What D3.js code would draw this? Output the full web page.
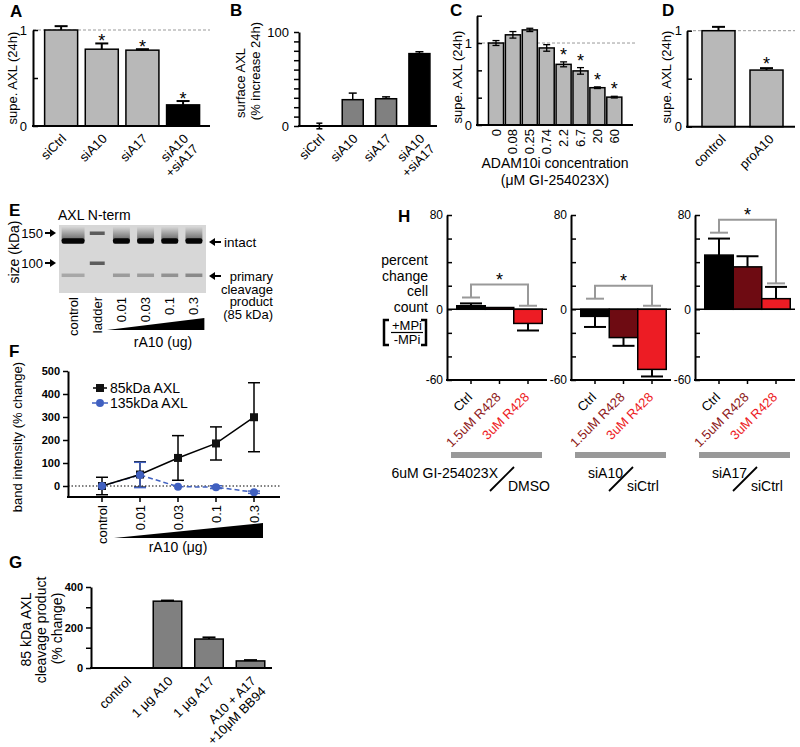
<!DOCTYPE html>
<html><head><meta charset="utf-8">
<script src="https://cdn.jsdelivr.net/npm/d3@7/dist/d3.min.js"></script>
<style>
html,body{margin:0;padding:0;background:#fff;}
svg{display:block;}
</style></head>
<body>
<svg id="fig" width="800" height="747"></svg>
<script>
// ===== DATA =====
const aCats = ["siCtrl","siA10","siA17","siA10\n+siA17"];
const aVals = [1.00, 0.80, 0.79, 0.22];
const aErr  = [0.04, 0.06, 0.01, 0.04];
const aSig  = [0, 1, 1, 1];

const bCats = ["siCtrl","siA10","siA17","siA10\n+siA17"];
const bVals = [0, 28, 29, 77];
const bErr  = [3, 7, 2, 2];

const cCats = ["0","0.08","0.25","0.74","2.2","6.7","20","60"];
const cVals = [1.00, 1.10, 1.16, 0.94, 0.74, 0.66, 0.455, 0.34];
const cErr  = [0.03, 0.04, 0.02, 0.04, 0.03, 0.04, 0.01, 0.01];
const cSig  = [0,0,0,0,1,1,1,1];

const dCats = ["control","proA10"];
const dVals = [1.00, 0.59];
const dErr  = [0.04, 0.02];
const dSig  = [0, 1];

const eLanes  = ["control","ladder","0.01","0.03","0.1","0.3"];
const eIntact = [1, 0, 1, 1, 1, 1];
const eCleave = [0.22, 0, 0.28, 0.28, 0.32, 0.36];
const eLadder = [150, 100];

const fCats   = ["control","0.01","0.03","0.1","0.3"];
const f85     = [0, 50, 122, 185, 299];
const f85Err  = [38, 55, 97, 72, 150];
const f135    = [0, 48, -3, -5, -27];
const f135Err = [3, 55, 4, 6, 5];

const gCats = ["control","1 μg A10","1 μg A17","A10 + A17\n+10μM BB94"];
const gVals = [0, 330, 143, 35];
const gErr  = [0, 3, 8, 4];

const hCats   = ["Ctrl","1.5uM R428","3uM R428"];
const hGroups = [["6uM GI-254023X","DMSO"],["siA10","siCtrl"],["siA17","siCtrl"]];
const hVals   = [[3, 1.5, -12],[-6, -24, -51],[46, 36, 9]];
const hErr    = [[2, 0, 6],[9, 7, 6],[14, 9, 10]];
const hBracket = [[10, 21, 3],[9, 20, 3],[65, 76, 22]];

// ===== HELPERS =====
const FONT = '"Liberation Sans", Arial, Helvetica, sans-serif';
const svg = d3.select("#fig").attr("font-family", FONT);

function line(x1,y1,x2,y2,opt={}) {
  return svg.append("line").attr("x1",x1).attr("y1",y1).attr("x2",x2).attr("y2",y2)
    .attr("stroke",opt.c||"#000").attr("stroke-width",opt.w||1.5)
    .attr("stroke-dasharray",opt.dash||null);
}
function text(t,x,y,opt={}) {
  return svg.append("text").attr("x",x).attr("y",y).text(t)
    .attr("font-size",opt.fs||13).attr("font-weight",opt.bold?"bold":"normal")
    .attr("text-anchor",opt.anchor||"start").attr("fill",opt.c||"#000");
}
function letter(t,x,y){ text(t,x,y,{fs:17,bold:true}); }
function vtitle(t,x,cy,fs){
  svg.append("text").attr("transform",`translate(${x},${cy}) rotate(-90)`)
    .attr("text-anchor","middle").attr("font-size",fs||13).text(t);
}
function rotLabel(lines,x,y,angle,fs,color){
  const t = svg.append("text").attr("transform",`translate(${x},${y}) rotate(${angle})`)
    .attr("text-anchor","end").attr("font-size",fs||13).attr("fill",color||"#000");
  lines.forEach((l,i)=>t.append("tspan").attr("x",0).attr("dy",i?"1.1em":0).text(l));
}
function yAxis(x, scale, ticks, fmt, opt={}) {
  const size = opt.size||5;
  const ax = d3.axisLeft(scale).tickValues(ticks).tickFormat(fmt).tickSizeOuter(0)
    .tickSizeInner(opt.inward ? -size : size).tickPadding(opt.pad||4);
  const g = svg.append("g").attr("transform",`translate(${x},0)`).call(ax);
  g.attr("font-family",FONT);
  g.select(".domain").attr("stroke-width",opt.sw||2);
  g.selectAll(".tick line").attr("stroke-width",opt.tw||1.5);
  g.selectAll(".tick text").attr("font-size",opt.fs||13)
    .attr("font-weight",opt.bold?"bold":"normal").attr("fill","#000");
  return g;
}
function errBar(cx,y1,y2,cap,opt={}) {
  line(cx,y1,cx,y2,{w:opt.w||1.5,c:opt.c});
  line(cx-cap/2,y2,cx+cap/2,y2,{w:opt.w||1.5,c:opt.c});
}
function star(cx,y,fs){ text("*",cx,y,{fs:fs||18,anchor:"middle"}); }
function barRects(cats,vals,x,y,fill,sw){
  svg.append("g").selectAll("rect").data(cats).join("rect")
    .attr("x",d=>x(d)).attr("width",x.bandwidth())
    .attr("y",(d,i)=>y(Math.max(0,vals[i])))
    .attr("height",(d,i)=>Math.abs(y(vals[i])-y(0)))
    .attr("fill",(d,i)=>fill(i)).attr("stroke","#000").attr("stroke-width",sw||1.5);
}
const LIGHT = "#b8b8b8", DARK = "#808080";

// ===== PANEL A =====
{
  letter("A",10,17);
  const y = d3.scaleLinear().domain([0,1]).range([126,30]);
  const x = d3.scaleBand().domain(aCats).range([40.8,203.4]).paddingInner(0.188).paddingOuter(0.094);
  line(33,y(1),210,y(1),{c:"#999",w:1,dash:"3,2"});
  barRects(aCats,aVals,x,y,i=>i===3?"#000":LIGHT);
  aCats.forEach((c,i)=>{
    const cx = x(c)+x.bandwidth()/2;
    errBar(cx,y(aVals[i]),y(aVals[i]+aErr[i]),13,{w:2});
    if(aSig[i]) star(cx,y(aVals[i]+aErr[i])+4);
    rotLabel(c.split("\n"),cx+6,139.5,-45,13);
  });
  yAxis(33,y,[0,0.5,1],d=>d===0.5?"":d3.format("d")(d),{inward:true,pad:6});
  line(32,y(0),210,y(0),{w:2});
  vtitle("supe. AXL (24h)",17,78);
}

// ===== PANEL B =====
{
  letter("B",230,16);
  const y = d3.scaleLinear().domain([0,100]).range([126,32]);
  const x = d3.scaleBand().domain(bCats).range([302.7,436.1]).paddingInner(0.37).paddingOuter(0.185);
  barRects(bCats,bVals,x,y,i=>i===3?"#000":DARK);
  bCats.forEach((c,i)=>{
    const cx = x(c)+x.bandwidth()/2;
    if(bVals[i]===0) { errBar(cx,y(0),y(bErr[i]),6,{w:1.5}); errBar(cx,y(0),y(-bErr[i]),6,{w:1.5}); }
    else errBar(cx,y(bVals[i]),y(bVals[i]+bErr[i]),8,{w:1.5});
    rotLabel(c.split("\n"),cx+6,139.5,-45,13);
  });
  yAxis(299,y,d3.range(0,101,10),d=>(d===0||d===100)?d:"",{pad:5});
  line(298,y(0),437,y(0),{w:2});
  vtitle("surface AXL",245,83);
  vtitle("(% increase 24h)",260,71);
}

// ===== PANEL C =====
{
  letter("C",450,16);
  const y = d3.scaleLinear().domain([0,4/3]).range([125,15.7]);
  const x = d3.scaleBand().domain(cCats).range([487.55,622.75]).paddingInner(0.11).paddingOuter(0.055);
  line(477,y(1),637,y(1),{c:"#999",w:1,dash:"3,2"});
  barRects(cCats,cVals,x,y,()=>LIGHT);
  cCats.forEach((c,i)=>{
    const cx = x(c)+x.bandwidth()/2;
    errBar(cx,y(cVals[i]),y(cVals[i]+cErr[i]),7,{w:1.3});
    errBar(cx,y(cVals[i]),y(cVals[i]-cErr[i]),7,{w:1.3});
    if(cSig[i]) star(cx,y(cVals[i]+cErr[i])-1);
    svg.append("text").attr("transform",`translate(${cx+4.5},129) rotate(-90)`)
      .attr("text-anchor","end").attr("font-size",13).text(c);
  });
  yAxis(477,y,[0,1/3,2/3,1,4/3],d=>d===0?"0":(Math.abs(d-1)<1e-9?"1":""),{inward:true,pad:5});
  line(476,y(0),633,y(0),{w:2});
  vtitle("supe. AXL (24h)",462,77);
  text("ADAM10i concentration",555,168,{fs:14,anchor:"middle"});
  text("(μM GI-254023X)",555,185,{fs:14,anchor:"middle"});
}

// ===== PANEL D =====
{
  letter("D",662,16);
  const y = d3.scaleLinear().domain([0,1]).range([126.7,30.7]);
  const x = d3.scaleBand().domain(dCats).range([694.5,790.5]).paddingInner(0.3125).paddingOuter(0.156);
  line(688,y(1),795,y(1),{c:"#999",w:1,dash:"3,2"});
  barRects(dCats,dVals,x,y,()=>LIGHT);
  dCats.forEach((c,i)=>{
    const cx = x(c)+x.bandwidth()/2;
    errBar(cx,y(dVals[i]),y(dVals[i]+dErr[i]),13,{w:2});
    if(dSig[i]) star(cx,y(dVals[i]+dErr[i])+2);
    rotLabel([c],cx+8,140,-45,13);
  });
  yAxis(687,y,[0,0.5,1],d=>d===0.5?"":d3.format("d")(d),{inward:true,pad:5});
  line(686,y(0),795,y(0),{w:2});
  vtitle("supe. AXL (24h)",671,77);
}

// ===== PANEL E (gel) =====
{
  letter("E",9,216);
  text("AXL N-term",58,220,{fs:14});
  const kDa = d3.scaleLog().domain([150,100]).range([233,263]);
  const lx = d3.scaleBand().domain(eLanes).range([61,206]).paddingInner(0.3).paddingOuter(0.15);
  const defs = svg.append("defs");
  const gr = defs.append("linearGradient").attr("id","smear").attr("x1",0).attr("x2",0).attr("y1",0).attr("y2",1);
  gr.append("stop").attr("offset","0%").attr("stop-color","#d6d6d6");
  gr.append("stop").attr("offset","100%").attr("stop-color","#444");
  svg.append("rect").attr("x",59).attr("y",225).attr("width",147).attr("height",68).attr("fill","#d7d7d7");
  eLanes.forEach((l,i)=>{
    const x0 = lx(l), w = lx.bandwidth() + (i===0?6:0), xx = x0 - (i===0?3:0);
    if(eIntact[i]) {
      svg.append("rect").attr("x",xx).attr("y",kDa(135)-14).attr("width",w).attr("height",14).attr("fill","url(#smear)").attr("opacity",0.8);
      svg.append("rect").attr("x",xx).attr("y",kDa(135)-2.5).attr("width",w).attr("height",5.5).attr("rx",2).attr("fill","#050505");
      svg.append("rect").attr("x",xx).attr("y",kDa(85)-1.5).attr("width",w).attr("height",3.5).attr("fill","#000").attr("opacity",eCleave[i]);
    } else {
      eLadder.forEach(k=>svg.append("rect").attr("x",xx+1).attr("y",kDa(k)-1.5).attr("width",w-2).attr("height",3.5).attr("fill","#333").attr("opacity",0.75));
    }
    svg.append("text").attr("transform",`translate(${x0+lx.bandwidth()/2+4.5},297) rotate(-90)`)
      .attr("text-anchor","end").attr("font-size",13).text(l);
  });
  function arrowR(x1,x2,yy){ line(x1,yy,x2-4,yy,{w:2}); svg.append("path").attr("d",`M${x2},${yy}L${x2-6},${yy-4}L${x2-6},${yy+4}Z`); }
  function arrowL(x1,x2,yy){ line(x1,yy,x2+4,yy,{w:2}); svg.append("path").attr("d",`M${x2},${yy}L${x2+6},${yy-4}L${x2+6},${yy+4}Z`); }
  eLadder.forEach(k=>{ text(String(k),43,kDa(k)+4.5,{fs:13,anchor:"end"}); arrowR(45,56,kDa(k)); });
  arrowL(221,209,242);
  text("intact",224,247,{fs:13.5});
  arrowL(221,209,276);
  text("primary",273,281,{fs:13,anchor:"end"});
  text("cleavage",273,293.5,{fs:13,anchor:"end"});
  text("product",273,306,{fs:13,anchor:"end"});
  text("(85 kDa)",273,318.5,{fs:13,anchor:"end"});
  vtitle("size (kDa)",19,252,14);
  const xa = lx("0.01")-6, xb = lx("0.3")+lx.bandwidth()+2;
  svg.append("path").attr("d",`M${xa},330L${xb},330L${xb},318Z`).attr("fill","#000");
  text("rA10 (ug)",163,347,{fs:14,anchor:"middle"});
}

// ===== PANEL F =====
{
  letter("F",9,357);
  const y = d3.scaleLinear().domain([0,500]).range([486,371]);
  const x = d3.scalePoint().domain(fCats).range([102,254]);
  const AX = 68;
  line(AX,y(0),280,y(0),{w:1,dash:"1.5,2"});
  const blue = "#4060c0";
  const ln = d3.line().x((d,i)=>x(fCats[i])).y(d=>y(d));
  svg.append("path").attr("d",ln(f135)).attr("fill","none").attr("stroke",blue).attr("stroke-width",1.5).attr("stroke-dasharray","5,3");
  svg.append("path").attr("d",ln(f85)).attr("fill","none").attr("stroke","#000").attr("stroke-width",1.5);
  fCats.forEach((c,i)=>{
    const cx = x(c);
    errBar(cx,y(f85[i]),y(f85[i]+f85Err[i]),12,{w:1.5});
    errBar(cx,y(f85[i]),y(f85[i]-f85Err[i]),12,{w:1.5});
  });
  fCats.forEach((c,i)=>{
    const cx = x(c);
    if(f135Err[i]>4){
      errBar(cx,y(f135[i]),y(f135[i]+f135Err[i]),12,{w:1.5,c:blue});
      errBar(cx,y(f135[i]),y(f135[i]-f135Err[i]),12,{w:1.5,c:blue});
    }
  });
  svg.append("g").selectAll("rect").data(f85).join("rect")
    .attr("x",(d,i)=>x(fCats[i])-4).attr("y",d=>y(d)-4).attr("width",8).attr("height",8).attr("fill","#111");
  svg.append("g").selectAll("circle").data(f135).join("circle")
    .attr("cx",(d,i)=>x(fCats[i])).attr("cy",d=>y(d)).attr("r",4).attr("fill",blue);
  const yfull = d3.scaleLinear().domain([-50,500]).range([497.5,371]);
  yAxis(AX,yfull,[0,100,200,300,400,500],d=>d,{pad:3,fs:11,bold:true});
  line(AX-1,497,280,497,{w:2});
  fCats.forEach(c=>{
    line(x(c),497,x(c),502,{w:1.5});
    svg.append("text").attr("transform",`translate(${x(c)+4.5},505) rotate(-90)`)
      .attr("text-anchor","end").attr("font-size",13).text(c);
  });
  line(93,388,107,388,{w:1.5});
  svg.append("rect").attr("x",96).attr("y",384).attr("width",8).attr("height",8).attr("fill","#111");
  text("85kDa AXL",110,393,{fs:14});
  line(92,403,108,403,{w:1.5,c:blue,dash:"4,2"});
  svg.append("circle").attr("cx",100).attr("cy",403).attr("r",4).attr("fill",blue);
  text("135kDa AXL",110,408,{fs:14,c:"#000"});
  vtitle("band intensity (% change)",22,437,13);
  svg.append("path").attr("d",`M114,538L263,538L263,523Z`).attr("fill","#000");
  text("rA10 (μg)",178,552,{fs:14,anchor:"middle"});
}

// ===== PANEL G =====
{
  letter("G",9,568);
  const y = d3.scaleLinear().domain([0,400]).range([668,587]);
  const x = d3.scaleBand().domain(gCats).range([105.25,271.25]).paddingInner(0.313).paddingOuter(0.156);
  const AX = 91;
  barRects(gCats,gVals,x,y,()=>DARK);
  gCats.forEach((c,i)=>{
    const cx = x(c)+x.bandwidth()/2;
    if(gErr[i]) errBar(cx,y(gVals[i]),y(gVals[i]+gErr[i]),13,{w:2});
    rotLabel(c.split("\n"),cx+6,682,-45,13);
  });
  yAxis(AX,y,[0,100,200,300,400],d=>d%200===0?d:"",{pad:3,fs:11,bold:true});
  line(AX-1,y(0),272,y(0),{w:2});
  vtitle("85 kDa AXL",31,629.5,14);
  vtitle("cleavage product",46,630,14);
  vtitle("(% change)",62,628.5,14);
}

// ===== PANEL H =====
{
  letter("H",398,222);
  const y = d3.scaleLinear().domain([-60,80]).range([380,215]);
  const hColors = ["#000000","#6e0b12","#ed1c24"];
  const hLabelColors = ["#000000","#8e1a20","#ed1c24"];
  const x0s = [447,571,695];
  hVals.forEach((vals,gi)=>{
    const x0 = x0s[gi];
    const x = d3.scaleBand().domain(hCats).range([x0+9.75,x0+95.25]).padding(0);
    barRects(hCats,vals,x,y,i=>hColors[i],1.5);
    hCats.forEach((c,i)=>{
      const cx = x(c)+x.bandwidth()/2, v = vals[i], e = hErr[gi][i];
      if(e>0) errBar(cx,y(v),y(v>=0? v+e : v-e),22,{w:2});
      rotLabel([c],cx+2,398,-45,13,hLabelColors[i]);
      line(cx,380,cx,384,{w:1.5});
    });
    line(x0,y(0),x0+100,y(0),{w:1.5});
    yAxis(x0,y,d3.range(-60,81,20),d=>(d===80||d===0||d===-60)?d:"",{inward:true,pad:4,fs:12});
    line(x0-1,380,x0+100,380,{w:2});
    const [lc,tp,rc] = hBracket[gi];
    const xl = x(hCats[0])+x.bandwidth()/2, xr = x(hCats[2])+x.bandwidth()/2;
    const grey = {c:"#999",w:2};
    line(xl-9,y(lc),xl+9,y(lc),grey);
    line(xl,y(lc),xl,y(tp),grey);
    line(xl-1,y(tp),xr+1,y(tp),grey);
    line(xr,y(tp),xr,y(rc),grey);
    line(xr-9,y(rc),xr+9,y(rc),grey);
    star((xl+xr)/2,y(tp)+1);
    svg.append("rect").attr("x",x0+4).attr("y",452).attr("width",91).attr("height",6).attr("fill","#999");
    const g = hGroups[gi];
    if(gi===0){
      text(g[0],x0+51,478,{fs:14,anchor:"end"});
      line(x0+43,491,x0+67,467,{w:1.8});
      text(g[1],x0+61,491,{fs:14});
    } else {
      text(g[0],x0+17,478,{fs:14});
      line(x0+38,491,x0+62,467,{w:1.8});
      text(g[1],x0+56,491,{fs:14});
    }
  });
  ["percent","change","cell","count"].forEach((t,i)=>text(t,428,265+i*15.5,{fs:14,anchor:"end"}));
  svg.append("path").attr("d","M389,320H384V345H389").attr("fill","none").attr("stroke","#000").attr("stroke-width",2.5);
  svg.append("path").attr("d","M421,320H426V345H421").attr("fill","none").attr("stroke","#000").attr("stroke-width",2.5);
  text("+MPi",407,330,{fs:13,anchor:"middle"});
  line(391,332.5,423,332.5,{w:1.2});
  text("-MPi",407,344,{fs:13,anchor:"middle"});
}
</script>
</body></html>
